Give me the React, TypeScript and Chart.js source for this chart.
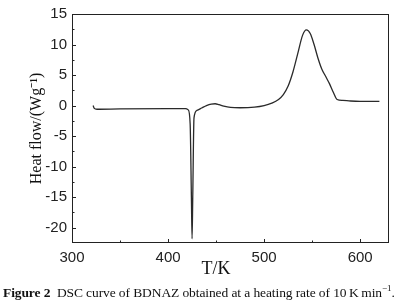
import React, { useEffect, useRef } from "react";
import { Chart, registerables } from "chart.js";

Chart.register(...registerables);

const temperatureK: number[] = [322, 323, 326, 350, 400, 418, 421, 423, 424.3, 425, 425.7, 427, 430, 435, 440, 445, 449, 453, 458, 465, 475, 490, 500, 508, 515, 520, 525, 530, 535, 540, 544, 548, 552, 556, 560, 564, 568, 572, 576, 582, 590, 600, 620];
const heatFlow: number[] = [0, -0.4, -0.6, -0.55, -0.5, -0.5, -0.7, -3, -15, -21.8, -15, -2, -0.8, -0.4, 0, 0.25, 0.3, 0.15, -0.1, -0.3, -0.35, -0.25, 0, 0.4, 1.0, 1.8, 3.2, 5.5, 8.5, 11.5, 12.4, 11.8, 10, 7.8, 6, 4.8, 3.6, 2.2, 1.0, 0.85, 0.75, 0.7, 0.7];

const xMajorTicks: number[] = [300, 400, 500, 600];
const xMinorTicks: number[] = [350, 450, 550];
const yMajorTicks: number[] = [15, 10, 5, 0, -5, -10, -15, -20];
const yMinorTicks: number[] = [12.5, 7.5, 2.5, -2.5, -7.5, -12.5, -17.5];

const xTitle = "T/K";
const yTitle = "Heat flow/(Wg\u207B\u00B9)";

const framePlugin = {
  id: "frameTicks",
  afterDraw(chart: any) {
    const { ctx, chartArea, scales } = chart;
    const { left, right, top, bottom } = chartArea;
    const xs = scales.x;
    const ys = scales.y;
    ctx.save();
    ctx.strokeStyle = "#222";
    ctx.lineWidth = 1;
    ctx.strokeRect(left + 0.5, top + 0.5, right - left - 1, bottom - top - 1);
    ctx.beginPath();
    for (const v of xMajorTicks) {
      const px = Math.round(xs.getPixelForValue(v)) + 0.5;
      ctx.moveTo(px, bottom);
      ctx.lineTo(px, bottom - 4);
    }
    for (const v of xMinorTicks) {
      const px = Math.round(xs.getPixelForValue(v)) + 0.5;
      ctx.moveTo(px, bottom);
      ctx.lineTo(px, bottom - 2.5);
    }
    for (const v of yMajorTicks) {
      const py = Math.round(ys.getPixelForValue(v)) + 0.5;
      ctx.moveTo(left, py);
      ctx.lineTo(left + 4, py);
    }
    for (const v of yMinorTicks) {
      const py = Math.round(ys.getPixelForValue(v)) + 0.5;
      ctx.moveTo(left, py);
      ctx.lineTo(left + 2.5, py);
    }
    ctx.stroke();

    ctx.fillStyle = "#111";
    ctx.textAlign = "center";
    ctx.textBaseline = "middle";
    ctx.font = "18px 'Liberation Serif', serif";
    ctx.fillText(xTitle, 216, 269);
    ctx.font = "16px 'Liberation Serif', serif";
    ctx.translate(37, (top + bottom) / 2);
    ctx.rotate(-Math.PI / 2);
    ctx.fillText(yTitle, 0, 0);
    ctx.restore();
  },
};

export default function App() {
  const canvasRef = useRef<HTMLCanvasElement | null>(null);

  useEffect(() => {
    document.body.style.margin = "0";
    const canvas = canvasRef.current;
    if (!canvas) return;
    const chart = new Chart(canvas, {
      type: "line",
      data: {
        datasets: [
          {
            data: temperatureK.map((t, i) => ({ x: t, y: heatFlow[i] })),
            borderColor: "#2a2a2a",
            borderWidth: 1.3,
            pointRadius: 0,
            fill: false,
            cubicInterpolationMode: "monotone",
          },
        ],
      },
      options: {
        animation: false,
        responsive: false,
        maintainAspectRatio: false,
        layout: { padding: { top: 7, right: 11, left: 0, bottom: 0 } },
        plugins: { legend: { display: false }, tooltip: { enabled: false } },
        scales: {
          x: {
            type: "linear",
            min: 300,
            max: 630,
            afterBuildTicks: (s: any) => {
              s.ticks = xMajorTicks.map((v) => ({ value: v }));
            },
            afterFit: (s: any) => {
              s.height = 60;
            },
            grid: { display: false, drawTicks: false },
            border: { display: false },
            ticks: {
              padding: 6,
              color: "#222",
              font: { family: "'Liberation Sans', Arial, sans-serif", size: 15 },
              maxRotation: 0,
            },
          },
          y: {
            type: "linear",
            min: -22.5,
            max: 15,
            afterBuildTicks: (s: any) => {
              s.ticks = yMajorTicks.map((v) => ({ value: v }));
            },
            afterFit: (s: any) => {
              s.width = 72;
            },
            grid: { display: false, drawTicks: false },
            border: { display: false },
            ticks: {
              padding: 5,
              color: "#222",
              font: { family: "'Liberation Sans', Arial, sans-serif", size: 15 },
            },
          },
        },
      },
      plugins: [framePlugin],
    });
    return () => chart.destroy();
  }, []);

  return (
    <div style={{ position: "relative", width: 400, height: 303, background: "#fff" }}>
      <canvas ref={canvasRef} width={400} height={303} style={{ display: "block" }} />
      <div
        style={{
          position: "absolute",
          left: 3,
          top: 283,
          width: 400,
          whiteSpace: "nowrap",
          fontFamily: "'Liberation Serif', serif",
          fontSize: 13.5,
          letterSpacing: "-0.1px",
          color: "#111",
        }}
      >
        <b>Figure 2</b>&nbsp; DSC curve of BDNAZ obtained at a heating rate of 10&thinsp;K&thinsp;min<sup style={{ fontSize: 9 }}>&minus;1</sup>.
      </div>
    </div>
  );
}
